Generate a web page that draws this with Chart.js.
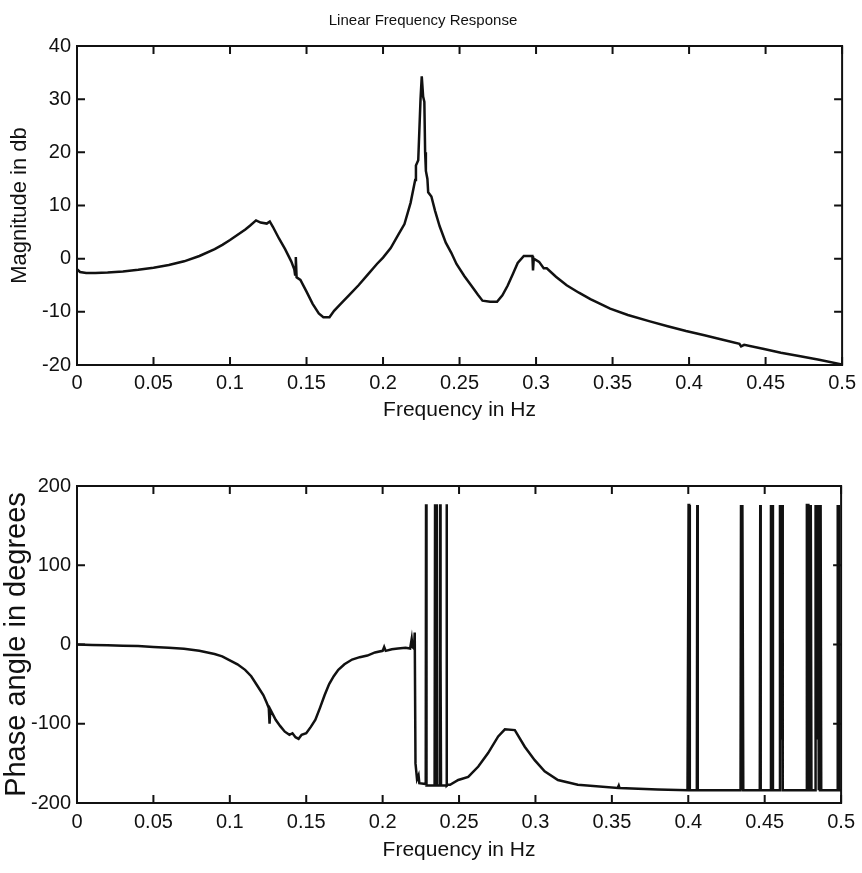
<!DOCTYPE html>
<html>
<head>
<meta charset="utf-8">
<script src="https://cdn.jsdelivr.net/npm/chart.js@4.4.1/dist/chart.umd.min.js"></script>
<style>
  body { margin: 0; background: #fff; }
  canvas { position: absolute; left: 0; }
  #mag { top: 0; }
  #phase { top: 430px; }
</style>
</head>
<body>
<canvas id="mag" width="862" height="430"></canvas>
<canvas id="phase" width="862" height="443"></canvas>
<script>
// ticks
const freqTicks = [0, 0.05, 0.1, 0.15, 0.2, 0.25, 0.3, 0.35, 0.4, 0.45, 0.5]
const magTicks = [-20, -10, 0, 10, 20, 30, 40]
const phaseTicks = [-200, -100, 0, 100, 200]

// magnitude (dB)
const magFreq = [0, 0.002, 0.006, 0.012, 0.02, 0.03, 0.04, 0.05, 0.06, 0.07, 0.08, 0.09, 0.095, 0.1, 0.105, 0.11, 0.113, 0.117, 0.12, 0.124, 0.126, 0.128, 0.132, 0.136, 0.14, 0.142, 0.1425, 0.143, 0.1435, 0.146, 0.15, 0.154, 0.158, 0.161, 0.165, 0.168, 0.172, 0.178, 0.184, 0.19, 0.196, 0.2, 0.205, 0.21, 0.214, 0.218, 0.221, 0.2215, 0.223, 0.2245, 0.2253, 0.2262, 0.227, 0.2275, 0.228, 0.229, 0.2295, 0.2316, 0.234, 0.237, 0.241, 0.2446, 0.248, 0.2532, 0.258, 0.262, 0.265, 0.27, 0.2745, 0.278, 0.2814, 0.285, 0.288, 0.292, 0.2976, 0.298, 0.2985, 0.302, 0.305, 0.307, 0.313, 0.32, 0.328, 0.3355, 0.342, 0.3484, 0.36, 0.3744, 0.386, 0.398, 0.41, 0.42, 0.4329, 0.434, 0.436, 0.449, 0.46, 0.4718, 0.485, 0.5]
const magDb = [-2.0, -2.5, -2.7, -2.7, -2.6, -2.4, -2.1, -1.7, -1.2, -0.5, 0.5, 1.8, 2.6, 3.5, 4.5, 5.5, 6.2, 7.2, 6.8, 6.6, 7.0, 6.0, 3.8, 1.8, -0.5, -2.0, -3.0, 0.3, -3.5, -4.0, -6.2, -8.5, -10.3, -11.0, -11.0, -9.8, -8.6, -6.8, -5.0, -3.0, -1.0, 0.2, 2.0, 4.5, 6.5, 10.5, 14.8, 17.5, 18.5, 30.0, 34.3, 30.5, 29.5, 20.0, 16.5, 15.0, 12.5, 11.7, 9.0, 6.1, 3.0, 1.1, -1.0, -3.3, -5.2, -6.8, -7.9, -8.1, -8.1, -6.9, -5.1, -2.8, -0.8, 0.5, 0.5, -2.2, 0.0, -0.6, -1.8, -1.8, -3.4, -5.0, -6.4, -7.6, -8.5, -9.4, -10.6, -11.8, -12.7, -13.6, -14.4, -15.1, -16.0, -16.5, -16.2, -17.0, -17.7, -18.3, -19.0, -19.9]

// phase (degrees), wraps at +-180
const phaseFreq = [0, 0.01, 0.02, 0.03, 0.04, 0.05, 0.06, 0.07, 0.08, 0.09, 0.095, 0.1, 0.105, 0.11, 0.114, 0.118, 0.122, 0.124, 0.1255, 0.126, 0.1265, 0.13, 0.133, 0.136, 0.139, 0.141, 0.143, 0.145, 0.147, 0.15, 0.153, 0.156, 0.159, 0.162, 0.165, 0.168, 0.171, 0.175, 0.18, 0.185, 0.19, 0.195, 0.2, 0.201, 0.202, 0.206, 0.21, 0.215, 0.218, 0.219, 0.2195, 0.2205, 0.221, 0.2215, 0.2225, 0.2235, 0.224,
  0.2282, 0.2284, 0.2287, 0.234, 0.2343, 0.2347, 0.235, 0.2354, 0.2373, 0.2376, 0.2379, 0.2382, 0.2415, 0.2418, 0.2421, 0.2425,
  0.2441, 0.2495, 0.256, 0.2626, 0.269, 0.2756, 0.28, 0.2865, 0.293, 0.2995, 0.306, 0.3147, 0.3277, 0.3538, 0.3545, 0.355, 0.38, 0.3995,
  0.4002, 0.4006, 0.401, 0.4056, 0.4059, 0.4062, 0.4342, 0.4345, 0.435, 0.4354, 0.436, 0.4468, 0.4471, 0.4474, 0.4538, 0.4541, 0.4546, 0.455, 0.4554,
  0.4597, 0.46, 0.4604, 0.4607, 0.4611, 0.4614, 0.4618, 0.4625, 0.4774, 0.4776, 0.4786, 0.4788, 0.4795, 0.4797, 0.48, 0.4803, 0.4806,
  0.483, 0.4833, 0.4836, 0.4839, 0.4842, 0.4845, 0.4848, 0.4851, 0.4854, 0.4858, 0.4862, 0.4866, 0.487, 0.4975, 0.4978, 0.4982, 0.4985, 0.4989, 0.5]
const phaseDeg = [0, -0.5, -1, -1.5, -2, -3, -4, -5.5, -8, -12, -15, -20, -25, -32, -40, -52, -64, -73, -80, -100, -82, -95, -103, -110, -114, -112, -117, -119, -114, -112, -104, -95, -80, -64, -50, -40, -32, -25, -19, -16, -14, -10, -8, -3, -8, -6, -5, -4, -5, 7, -3, -5, 15, -150, -170, -165, -175,
  -176, 177, -178, -178, 177, -60, 177, -178, -178, 177, -20, -178, -178, 177, -178, -177,
  -177, -171, -167, -154, -137, -116, -107, -108, -129, -146, -160, -171, -177, -181, -178, -181, -183, -184,
  176, 176, -184, -184, 176, -184, -184, 176, -184, 176, -184, -184, 176, -184, -184, 176, -184, 176, -184,
  -184, 176, -120, 176, -100, 176, -184, -184, -184, 176, 176, -184, -184, 176, -60, 176, -184,
  -184, 176, -110, 90, -100, 176, -120, 60, -184, 176, -184, 176, -184, -184, 176, -40, 176, -184, -184]

const ink = '#111'
const fontFamily = '"Liberation Sans", Arial, sans-serif'

// MATLAB style box with inward ticks on all four sides
const boxTicks = {
  id: 'boxTicks',
  afterDatasetsDraw(chart) {
    const { ctx, chartArea: a, scales: { x, y } } = chart
    ctx.save()
    ctx.strokeStyle = ink
    ctx.lineWidth = 2
    ctx.strokeRect(a.left, a.top, a.right - a.left, a.bottom - a.top)
    ctx.beginPath()
    x.ticks.forEach(t => {
      const px = x.getPixelForValue(t.value)
      ctx.moveTo(px, a.bottom); ctx.lineTo(px, a.bottom - 8)
      ctx.moveTo(px, a.top); ctx.lineTo(px, a.top + 8)
    })
    y.ticks.forEach(t => {
      const py = y.getPixelForValue(t.value)
      ctx.moveTo(a.left, py); ctx.lineTo(a.left + 8, py)
      ctx.moveTo(a.right, py); ctx.lineTo(a.right - 8, py)
    })
    ctx.stroke()
    ctx.restore()
  }
}

function makeChart(canvas, xs, ys, yTicks, opts) {
  return new Chart(canvas, {
    type: 'line',
    data: {
      datasets: [{
        data: xs.map((f, i) => ({ x: f, y: ys[i] })),
        borderColor: ink,
        borderWidth: 2.5,
        pointRadius: 0,
        tension: 0
      }]
    },
    options: {
      responsive: false,
      animation: false,
      devicePixelRatio: 1,
      layout: { padding: opts.padding },
      plugins: {
        legend: { display: false },
        tooltip: { enabled: false },
        title: opts.title
      },
      scales: {
        x: {
          type: 'linear',
          min: 0,
          max: 0.5,
          afterBuildTicks: s => { s.ticks = freqTicks.map(v => ({ value: v })) },
          afterFit: s => { s.height = opts.xHeight },
          grid: { display: false, drawTicks: false },
          border: { display: false },
          ticks: {
            padding: opts.xTickPad,
            color: ink,
            maxRotation: 0,
            font: { family: fontFamily, size: 20 },
            callback: v => String(+v.toFixed(2))
          },
          title: {
            display: true,
            text: 'Frequency in Hz',
            color: ink,
            font: { family: fontFamily, size: 21, lineHeight: 1 },
            padding: { top: 0, bottom: opts.xTitlePad }
          }
        },
        y: {
          type: 'linear',
          min: yTicks[0],
          max: yTicks[yTicks.length - 1],
          afterBuildTicks: s => { s.ticks = yTicks.map(v => ({ value: v })) },
          afterFit: s => { s.width = 77 },
          grid: { display: false, drawTicks: false },
          border: { display: false },
          ticks: {
            padding: 6,
            color: ink,
            font: { family: fontFamily, size: 20 }
          },
          title: {
            display: true,
            text: opts.yTitle,
            color: ink,
            font: { family: fontFamily, size: opts.yTitleSize, lineHeight: 1 },
            padding: { top: opts.yTitlePad, bottom: 0 }
          }
        }
      }
    },
    plugins: [boxTicks]
  })
}

makeChart(document.getElementById('mag'), magFreq, magDb, magTicks, {
  padding: { left: 0, right: 16, top: 0, bottom: 0 },
  title: {
    display: true,
    text: 'Linear Frequency Response',
    color: ink,
    font: { family: fontFamily, size: 15, weight: 'normal', lineHeight: 1 },
    padding: { top: 13, bottom: 18 }
  },
  xHeight: 65,
  xTickPad: 6,
  xTitlePad: 9,
  yTitle: 'Magnitude in db',
  yTitleSize: 22,
  yTitlePad: 9
})

makeChart(document.getElementById('phase'), phaseFreq, phaseDeg, phaseTicks, {
  padding: { left: 0, right: 16, top: 56, bottom: 0 },
  title: { display: false },
  xHeight: 70,
  xTickPad: 7,
  xTitlePad: 12,
  yTitle: 'Phase angle in degrees',
  yTitleSize: 29,
  yTitlePad: 2
})
</script>
</body>
</html>
